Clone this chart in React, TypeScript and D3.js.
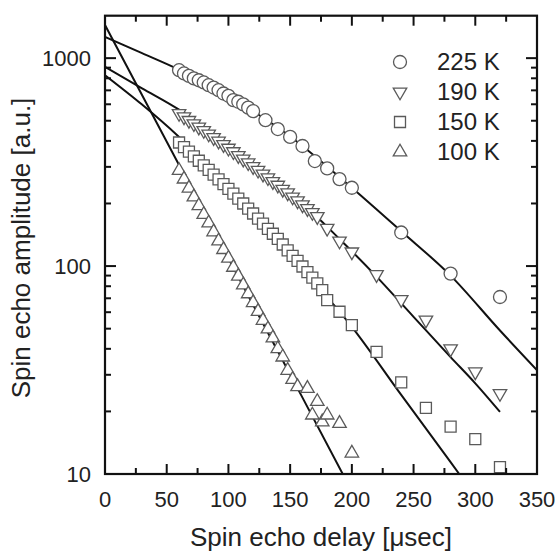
import React from 'react';
import * as d3 from 'd3';

const W = 557, H = 552;
const PLOT = { left: 105, right: 537, top: 15.7, bottom: 474 };

const xMajorTicks = [0, 50, 100, 150, 200, 250, 300, 350];
const xMinorTicks = [25, 75, 125, 175, 225, 275, 325];
const yMajorTicks = [10, 100, 1000];
const yMinorTicks = [20, 30, 40, 50, 60, 70, 80, 90, 200, 300, 400, 500, 600, 700, 800, 900];

const legendLabels = ['225 K', '190 K', '150 K', '100 K'];

// 225 K (circles)
const x225 = [60, 64, 68, 72, 76, 80, 84, 88, 92, 96, 100, 104, 108, 112, 116, 120, 130, 140, 150, 160, 170, 180, 190, 200, 240, 280, 320];
const y225 = [875, 844, 822, 799, 783, 764, 741, 722, 701, 676, 659, 628, 617, 599, 578, 556, 503, 456, 418, 378, 320, 295, 262, 238, 145, 92, 71];

// 190 K (down triangles)
const x190 = [60, 64, 68, 72, 76, 80, 84, 88, 92, 96, 100, 104, 108, 112, 116, 120, 124, 128, 132, 136, 140, 144, 148, 152, 156, 160, 164, 168, 172, 180, 190, 200, 220, 240, 260, 280, 300, 320];
const y190 = [542, 522, 502, 484, 466, 449, 432, 415, 399, 384, 369, 355, 340, 327, 314, 301, 289, 277, 266, 255, 245, 234, 225, 215, 206, 197, 189, 181, 173, 152, 132, 117, 91, 69, 55, 40, 31, 24.4];

// 150 K (squares)
const x150 = [60, 64, 68, 72, 76, 80, 84, 88, 92, 96, 100, 104, 108, 112, 116, 120, 124, 128, 132, 136, 140, 144, 148, 152, 156, 160, 164, 168, 172, 176, 180, 190, 200, 220, 240, 260, 280, 300, 320];
const y150 = [393, 373, 355, 337, 321, 305, 290, 275, 261, 248, 235, 223, 211, 200, 189, 179, 169, 160, 151, 143, 135, 127, 119, 112, 106, 99.5, 93.5, 88, 82.6, 76.7, 68.6, 60.3, 52, 38.7, 27.6, 20.8, 16.9, 14.7, 10.8];

// 100 K (up triangles)
const x100 = [60, 64, 68, 72, 76, 80, 84, 88, 92, 96, 100, 104, 108, 112, 116, 120, 124, 128, 132, 136, 140, 144, 148, 152, 156, 164, 168, 172, 176, 180, 190, 200];
const y100 = [288, 262, 237, 215, 195, 177, 161, 146, 132, 120, 109, 98.6, 89.4, 81.1, 73.5, 66.7, 60.5, 54.8, 49.8, 45.1, 40, 36.5, 31.5, 28.5, 26.3, 25.8, 19.2, 22.3, 17.8, 19.2, 17.5, 12.6];

// fit curves
const fitX225 = [0, 30, 60, 100, 150, 200, 240, 280, 320, 350];
const fitY225 = [1265, 1057, 880, 655, 420, 238, 147, 90, 49, 31.6];
const fitX190 = [0, 30, 60, 100, 130, 160, 190, 220, 250, 280, 300, 320];
const fitY190 = [908, 716, 565, 378, 275, 200, 135, 89, 57, 36.5, 27.3, 19.9];
const fitX150 = [0, 30, 60, 100, 130, 160, 200, 240, 280, 287];
const fitY150 = [828, 598, 418, 243, 155, 97, 51, 24, 11.4, 10];
const fitX100 = [0, 60, 115, 160, 192.6];
const fitY100 = [1443, 306, 74, 23.3, 10];

const FONT = '"Liberation Sans", Arial, Helvetica, sans-serif';
const MARK = '#5a5a5a';

const x = d3.scaleLinear().domain([0, 350]).range([PLOT.left, PLOT.right]);
const y = d3.scaleLog().domain([10, 1600]).range([PLOT.bottom, PLOT.top]);

const symCircle = d3.symbol(d3.symbolCircle, Math.PI * 6.5 * 6.5)();
const symSquare = d3.symbol(d3.symbolSquare, 11 * 11)();
const symTri = d3.symbol(d3.symbolTriangle, (Math.sqrt(3) / 4) * 13.5 * 13.5)();

const markerDefs = [
  { path: symCircle, rot: 0 },
  { path: symTri, rot: 180 },
  { path: symSquare, rot: 0 },
  { path: symTri, rot: 0 },
];

const series = [
  { xs: x225, ys: y225, fx: fitX225, fy: fitY225 },
  { xs: x190, ys: y190, fx: fitX190, fy: fitY190 },
  { xs: x150, ys: y150, fx: fitX150, fy: fitY150 },
  { xs: x100, ys: y100, fx: fitX100, fy: fitY100 },
];

const line = d3
  .line<[number, number]>()
  .x((d) => x(d[0]))
  .y((d) => y(d[1]))
  .curve(d3.curveMonotoneX);

function Marker({ i, cx, cy }: { i: number; cx: number; cy: number }) {
  const m = markerDefs[i];
  return (
    <path
      d={m.path as string}
      transform={`translate(${cx},${cy}) rotate(${m.rot})`}
      fill="#fff"
      stroke={MARK}
      strokeWidth={1.3}
    />
  );
}

export default function App() {
  return (
    <svg
      width={W}
      height={H}
      style={{ position: 'absolute', left: 0, top: 0, background: '#fff' }}
      fontFamily={FONT}
    >
      <defs>
        <clipPath id="plotclip">
          <rect x={PLOT.left} y={PLOT.top} width={PLOT.right - PLOT.left} height={PLOT.bottom - PLOT.top} />
        </clipPath>
      </defs>

      {/* fit lines */}
      <g clipPath="url(#plotclip)">
        {series.map((s, i) => (
          <path
            key={'fit' + i}
            d={line(s.fx.map((v, k) => [v, s.fy[k]] as [number, number])) as string}
            fill="none"
            stroke="#111"
            strokeWidth={2}
          />
        ))}
      </g>

      {/* data markers */}
      {series.map((s, i) => (
        <g key={'pts' + i}>
          {s.xs.map((v, k) => (
            <Marker key={k} i={i} cx={x(v)} cy={y(s.ys[k])} />
          ))}
        </g>
      ))}

      {/* frame */}
      <rect
        x={PLOT.left}
        y={PLOT.top}
        width={PLOT.right - PLOT.left}
        height={PLOT.bottom - PLOT.top}
        fill="none"
        stroke="#111"
        strokeWidth={2.2}
      />

      {/* x ticks */}
      {xMajorTicks.map((t) => (
        <g key={'xM' + t}>
          <line x1={x(t)} x2={x(t)} y1={PLOT.bottom} y2={PLOT.bottom - 10} stroke="#111" strokeWidth={2} />
          <line x1={x(t)} x2={x(t)} y1={PLOT.top} y2={PLOT.top + 10} stroke="#111" strokeWidth={2} />
          <text x={x(t)} y={507} textAnchor="middle" fontSize={22} fill="#222">
            {t}
          </text>
        </g>
      ))}
      {xMinorTicks.map((t) => (
        <g key={'xm' + t}>
          <line x1={x(t)} x2={x(t)} y1={PLOT.bottom} y2={PLOT.bottom - 6} stroke="#111" strokeWidth={2} />
          <line x1={x(t)} x2={x(t)} y1={PLOT.top} y2={PLOT.top + 6} stroke="#111" strokeWidth={2} />
        </g>
      ))}

      {/* y ticks */}
      {yMajorTicks.map((t) => (
        <g key={'yM' + t}>
          <line x1={PLOT.left} x2={PLOT.left + 11} y1={y(t)} y2={y(t)} stroke="#111" strokeWidth={2} />
          <line x1={PLOT.right} x2={PLOT.right - 11} y1={y(t)} y2={y(t)} stroke="#111" strokeWidth={2} />
          <text x={91} y={y(t)} dy="0.35em" textAnchor="end" fontSize={22} fill="#222">
            {t}
          </text>
        </g>
      ))}
      {yMinorTicks.map((t) => (
        <g key={'ym' + t}>
          <line x1={PLOT.left} x2={PLOT.left + 6} y1={y(t)} y2={y(t)} stroke="#111" strokeWidth={2} />
          <line x1={PLOT.right} x2={PLOT.right - 6} y1={y(t)} y2={y(t)} stroke="#111" strokeWidth={2} />
        </g>
      ))}

      {/* axis titles */}
      <text x={(PLOT.left + PLOT.right) / 2} y={546} textAnchor="middle" fontSize={26} fill="#222">
        Spin echo delay [μsec]
      </text>
      <text
        transform={`translate(30,248) rotate(-90)`}
        textAnchor="middle"
        fontSize={26}
        fill="#222"
      >
        Spin echo amplitude [a.u.]
      </text>

      {/* legend */}
      {legendLabels.map((lab, i) => (
        <g key={'leg' + i}>
          <Marker i={i} cx={400} cy={62 + i * 30} />
          <text x={437} y={62 + i * 30} dy="0.35em" fontSize={24} fill="#222">
            {lab}
          </text>
        </g>
      ))}
    </svg>
  );
}
